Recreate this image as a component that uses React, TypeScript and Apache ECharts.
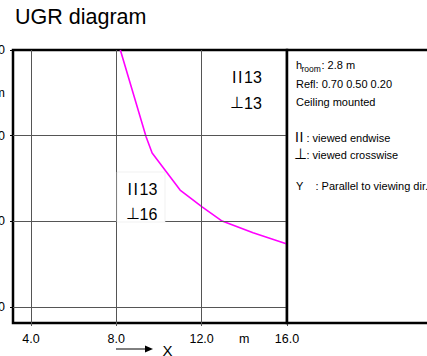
import React, { useEffect, useRef } from "react";
import * as echarts from "echarts";

const ugrX = [8.19, 9.4, 9.68, 10.99, 12.02, 12.96, 14.41, 16.0];
const ugrY = [16.0, 11.94, 11.19, 9.46, 8.67, 8.01, 7.46, 6.94];
const tickValues = [4, 8, 12, 16];
const labelValues = [4, 8, 12, 14, 16];
const unitValue = 14;
const gridX = [4, 8, 12];
const gridY = [4, 8, 12];
const infoLines = ["Refl: 0.70 0.50 0.20", "Ceiling mounted"];
const ugrTopRight = ["13", "13"];
const ugrMiddle = ["13", "16"];

const OFF = 40; // container shifted left so clipped labels fall outside
const FONT = "'Liberation Sans', Arial, sans-serif";

export default function App() {
  const ref = useRef<HTMLDivElement>(null);
  useEffect(() => {
    if (!ref.current) return;
    const chart = echarts.init(ref.current, null, { renderer: "svg" });
    const px = (x: number) => x + OFF;
    const txt = (x: number, y: number, text: string, size: number, extra: any = {}) => ({
      type: "text",
      x: px(x),
      y,
      z: 60,
      style: {
        text,
        fontSize: size,
        fontFamily: FONT,
        fill: "#000",
        verticalAlign: "middle",
        align: "left",
        ...extra,
      },
    });
    const fmt = (v: number) => (v === unitValue ? "m" : v.toFixed(1));
    chart.setOption({
      animation: false,
      textStyle: { fontFamily: FONT },
      title: {
        text: "UGR diagram",
        left: px(15),
        top: 6,
        padding: 0,
        textStyle: { fontSize: 21.5, fontWeight: "normal", color: "#000", fontFamily: FONT },
      },
      grid: {
        left: px(13),
        top: 50,
        width: 274,
        height: 273,
        show: true,
        borderColor: "#000",
        borderWidth: 2.5,
        backgroundColor: "transparent",
      },
      xAxis: {
        type: "value",
        min: 3.16,
        max: 16,
        axisLine: { show: false },
        splitLine: { show: false },
        axisTick: { show: true, length: 3, customValues: tickValues, lineStyle: { color: "#555" } },
        axisLabel: {
          customValues: labelValues,
          formatter: fmt,
          color: "#000",
          fontSize: 12.5,
          margin: 9,
          fontFamily: FONT,
        },
      },
      yAxis: {
        type: "value",
        min: 3.25,
        max: 16,
        axisLine: { show: false },
        splitLine: { show: false },
        axisTick: { show: true, length: 3, customValues: tickValues, lineStyle: { color: "#000" } },
        axisLabel: {
          customValues: labelValues,
          formatter: fmt,
          color: "#000",
          fontSize: 12.5,
          margin: 8,
          fontFamily: FONT,
        },
      },
      series: [
        {
          type: "line",
          data: [],
          z: 1,
          silent: true,
          markLine: {
            silent: true,
            symbol: ["none", "none"],
            label: { show: false },
            lineStyle: { color: "#555", width: 1, type: "solid" },
            data: [
              ...gridX.map((v) => ({ xAxis: v })),
              ...gridY.map((v) => ({ yAxis: v })),
            ],
          },
        },
        {
          type: "line",
          z: 3,
          data: ugrX.map((x, i) => [x, ugrY[i]]),
          showSymbol: false,
          symbol: "none",
          lineStyle: { color: "#ff00ff", width: 1.6 },
          silent: true,
        },
      ],
      graphic: [
        // right info panel
        {
          type: "rect",
          z: 55,
          shape: { x: px(287), y: 50, width: 200, height: 273 },
          style: { fill: "#fff", stroke: "#000", lineWidth: 2.5 },
        },
        // white box in plot
        {
          type: "rect",
          z: 55,
          shape: { x: px(117), y: 172, width: 48, height: 50 },
          style: { fill: "#fff", stroke: "#e8e8e8", lineWidth: 0.6 },
        },
        // plot labels top right
        txt(232, 77, "I", 16),
        txt(238, 77, "I", 16),
        txt(244, 77, ugrTopRight[0], 16),
        txt(229.5, 102, "⊥", 16),
        txt(244, 103, ugrTopRight[1], 16),
        // plot labels middle
        txt(127.5, 189, "I", 16),
        txt(133.5, 189, "I", 16),
        txt(139.5, 189, ugrMiddle[0], 16),
        txt(125.5, 213, "⊥", 16),
        txt(139.5, 214, ugrMiddle[1], 16),
        // info panel texts
        txt(296, 64.5, "h", 11),
        txt(301.5, 68.5, "room", 8.5),
        txt(321.5, 64.5, ": 2.8 m", 11),
        txt(296, 83.5, infoLines[0], 11),
        txt(296, 102, infoLines[1], 11),
        txt(295, 136.5, "I", 14),
        txt(299.5, 136.5, "I", 14),
        txt(306.5, 137.5, ": viewed endwise", 11),
        txt(294, 153, "⊥", 15),
        txt(306.5, 154.5, ": viewed crosswise", 11),
        txt(296, 186, "Y", 11),
        txt(315.5, 186, ": Parallel to viewing dir.", 11),
        // arrow under x axis
        {
          type: "line",
          z: 60,
          shape: { x1: px(116), y1: 349, x2: px(146), y2: 349 },
          style: { stroke: "#000", lineWidth: 1 },
        },
        {
          type: "polygon",
          z: 60,
          shape: { points: [[px(145), 345.5], [px(153), 349], [px(145), 352.5]] },
          style: { fill: "#000" },
        },
        txt(162.5, 350.5, "X", 15),
      ],
    });
    return () => chart.dispose();
  }, []);
  return (
    <div
      ref={ref}
      style={{ position: "absolute", left: -OFF, top: 0, width: 427 + OFF, height: 356 }}
    />
  );
}
